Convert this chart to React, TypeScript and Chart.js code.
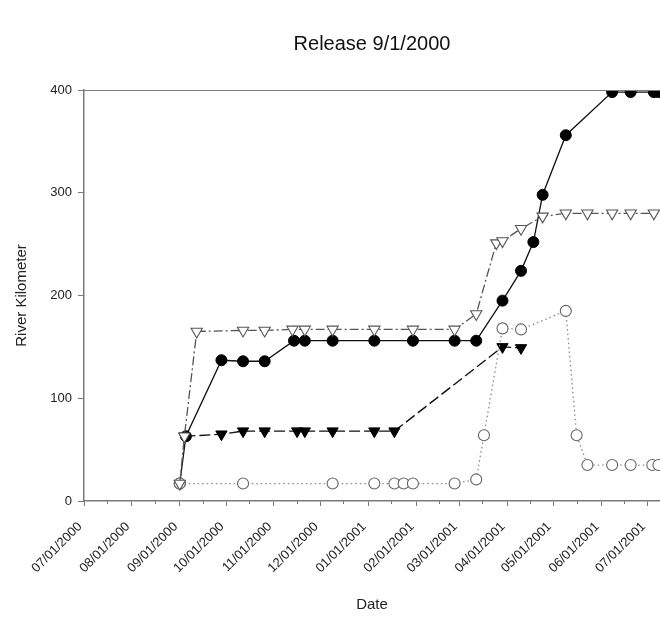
import React, { useEffect, useRef } from "react";
import { Chart, registerables } from "chart.js";

Chart.register(...registerables);

const TITLE = "Release 9/1/2000";
const X_TITLE = "Date";
const Y_TITLE = "River Kilometer";

const xTickLabels = [
  "07/01/2000", "08/01/2000", "09/01/2000", "10/01/2000", "11/01/2000", "12/01/2000",
  "01/01/2001", "02/01/2001", "03/01/2001", "04/01/2001", "05/01/2001", "06/01/2001", "07/01/2001",
];
const xMinDate = "2000-07-01";
const xMaxDate = "2001-07-09";
const yTicks = [0, 100, 200, 300, 400];

// Filled circles, solid line
const filledCircleDates = [
  "2000-09-01", "2000-09-05", "2000-09-28", "2000-10-12", "2000-10-26", "2000-11-14", "2000-11-21",
  "2000-12-09", "2001-01-05", "2001-01-30", "2001-02-26", "2001-03-12", "2001-03-29", "2001-04-10",
  "2001-04-18", "2001-04-24", "2001-05-09", "2001-06-08", "2001-06-20", "2001-07-05", "2001-07-08",
];
const filledCircleKm = [17, 63, 137, 136, 136, 156, 156, 156, 156, 156, 156, 156, 195, 224, 252, 298, 356, 398, 398, 398, 398];

// Open triangles, dash-dot line
const openTriangleDates = [
  "2000-09-01", "2000-09-04", "2000-09-12", "2000-10-12", "2000-10-26", "2000-11-13", "2000-11-21",
  "2000-12-09", "2001-01-05", "2001-01-30", "2001-02-26", "2001-03-12", "2001-03-25", "2001-03-29",
  "2001-04-10", "2001-04-24", "2001-05-09", "2001-05-23", "2001-06-08", "2001-06-20", "2001-07-05",
];
const openTriangleKm = [17, 63, 165, 166, 166, 167, 167, 167, 167, 167, 167, 182, 251, 253, 265, 277, 280, 280, 280, 280, 280];

// Filled triangles, long-dash line
const filledTriangleDates = [
  "2000-09-04", "2000-09-28", "2000-10-12", "2000-10-26", "2000-11-16", "2000-11-21",
  "2000-12-09", "2001-01-05", "2001-01-18", "2001-03-29", "2001-04-10",
];
const filledTriangleKm = [63, 65, 68, 68, 68, 68, 68, 68, 68, 150, 149];

// Open circles, dotted line
const openCircleDates = [
  "2000-09-01", "2000-10-12", "2000-12-09", "2001-01-05", "2001-01-18", "2001-01-24", "2001-01-30",
  "2001-02-26", "2001-03-12", "2001-03-17", "2001-03-29", "2001-04-10", "2001-05-09", "2001-05-16",
  "2001-05-23", "2001-06-08", "2001-06-20", "2001-07-04", "2001-07-08",
];
const openCircleKm = [17, 17, 17, 17, 17, 17, 17, 17, 21, 64, 168, 167, 185, 64, 35, 35, 35, 35, 35];

const ORIGIN = Date.UTC(2000, 6, 1);
const MS_DAY = 86400000;
function dayOf(s: string): number {
  const [y, m, d] = s.split("-").map(Number);
  return (Date.UTC(y, m - 1, d) - ORIGIN) / MS_DAY;
}
function dayOfLabel(s: string): number {
  const [m, d, y] = s.split("/").map(Number);
  return (Date.UTC(y, m - 1, d) - ORIGIN) / MS_DAY;
}
function pts(dates: string[], km: number[]) {
  return dates.map((d, i) => ({ x: dayOf(d), y: km[i] }));
}

const FONT = "'Liberation Sans', Arial, sans-serif";
const AXIS = "#7a7a7a";

export default function App() {
  const ref = useRef<HTMLCanvasElement | null>(null);

  useEffect(() => {
    if (!ref.current) return;
    const tickDays = xTickLabels.map(dayOfLabel);
    const labelByDay: Record<number, string> = {};
    xTickLabels.forEach((l, i) => (labelByDay[tickDays[i]] = l));
    const minorDays = tickDays.map((d) => d + 15);

    const decor = {
      id: "decor",
      afterDraw(chart: any) {
        const { ctx, chartArea } = chart;
        const xs = chart.scales.x;
        ctx.save();
        ctx.strokeStyle = AXIS;
        ctx.lineWidth = 1.2;
        ctx.beginPath();
        ctx.moveTo(chartArea.left, chartArea.top + 0.5);
        ctx.lineTo(chartArea.right, chartArea.top + 0.5);
        ctx.stroke();
        ctx.lineWidth = 1;
        minorDays.forEach((d) => {
          const px = xs.getPixelForValue(d);
          if (px < chartArea.left || px > chartArea.right) return;
          ctx.beginPath();
          ctx.moveTo(Math.round(px) + 0.5, chartArea.bottom);
          ctx.lineTo(Math.round(px) + 0.5, chartArea.bottom + 3);
          ctx.stroke();
        });
        ctx.fillStyle = "#111";
        ctx.font = `20px ${FONT}`;
        ctx.textAlign = "center";
        ctx.textBaseline = "middle";
        ctx.fillText(TITLE, (chartArea.left + chartArea.right) / 2, 44);
        ctx.restore();
      },
    };

    const chart = new Chart(ref.current, {
      type: "line",
      data: {
        datasets: [
          {
            label: "open triangle",
            data: pts(openTriangleDates, openTriangleKm),
            borderColor: "#555",
            borderWidth: 1.3,
            borderDash: [9, 3, 2, 3],
            pointStyle: "triangle",
            pointRotation: 180,
            pointRadius: 6.5,
            pointBackgroundColor: "#fff",
            pointBorderColor: "#555",
            pointBorderWidth: 1.1,
            fill: false,
            tension: 0,
          },
          {
            label: "open circle",
            data: pts(openCircleDates, openCircleKm),
            borderColor: "#8a8a8a",
            borderWidth: 1.3,
            borderDash: [1.5, 3],
            pointStyle: "circle",
            pointRadius: 5.5,
            pointBackgroundColor: "#fff",
            pointBorderColor: "#666",
            pointBorderWidth: 1.1,
            fill: false,
            tension: 0,
          },
          {
            label: "filled triangle",
            data: pts(filledTriangleDates, filledTriangleKm),
            borderColor: "#111",
            borderWidth: 1.4,
            borderDash: [11, 4],
            pointStyle: "triangle",
            pointRotation: 180,
            pointRadius: 6.5,
            pointBackgroundColor: "#000",
            pointBorderColor: "#000",
            pointBorderWidth: 1,
            fill: false,
            tension: 0,
          },
          {
            label: "filled circle",
            data: pts(filledCircleDates, filledCircleKm),
            borderColor: "#111",
            borderWidth: 1.3,
            pointStyle: "circle",
            pointRadius: 5.5,
            pointBackgroundColor: "#000",
            pointBorderColor: "#000",
            pointBorderWidth: 1,
            fill: false,
            tension: 0,
          },
        ],
      },
      options: {
        responsive: false,
        animation: false,
        layout: { autoPadding: false, padding: { top: 90, right: 0, left: 0, bottom: 0 } },
        plugins: {
          legend: { display: false },
          tooltip: { enabled: false },
          title: { display: false },
        },
        scales: {
          x: {
            type: "linear",
            min: dayOf(xMinDate),
            max: dayOf(xMaxDate),
            afterBuildTicks: (s: any) => {
              s.ticks = tickDays.map((v) => ({ value: v }));
            },
            afterFit: (s: any) => {
              s.height = 116;
              s.paddingLeft = 0;
              s.paddingRight = 0;
            },
            ticks: {
              autoSkip: false,
              minRotation: 45,
              maxRotation: 45,
              padding: 13,
              labelOffset: -4,
              color: "#222",
              font: { family: FONT, size: 13 },
              callback: (v: any) => labelByDay[v] ?? "",
            },
            grid: { drawOnChartArea: false, tickLength: 5, tickColor: AXIS, tickWidth: 1 },
            border: { display: true, color: AXIS, width: 1.5 },
            title: {
              display: true,
              text: X_TITLE,
              color: "#222",
              font: { family: FONT, size: 15 },
              padding: { top: 4, bottom: 3 },
            },
          },
          y: {
            type: "linear",
            min: yTicks[0],
            max: yTicks[yTicks.length - 1],
            afterBuildTicks: (s: any) => {
              s.ticks = yTicks.map((v) => ({ value: v }));
            },
            afterFit: (s: any) => {
              s.width = 84;
              s.paddingTop = 0;
              s.paddingBottom = 0;
            },
            ticks: {
              padding: 6,
              color: "#222",
              font: { family: FONT, size: 13 },
            },
            grid: { drawOnChartArea: false, tickLength: 6, tickColor: AXIS, tickWidth: 1 },
            border: { display: true, color: AXIS, width: 1.5 },
            title: {
              display: true,
              text: Y_TITLE,
              color: "#222",
              font: { family: FONT, size: 15 },
              padding: { top: 13, bottom: 4 },
            },
          },
        },
      },
      plugins: [decor],
    } as any);

    return () => chart.destroy();
  }, []);

  return (
    <div style={{ position: "absolute", left: 0, top: 0, width: 660, height: 617, background: "#fff" }}>
      <canvas ref={ref} width={660} height={617} style={{ display: "block", width: 660, height: 617 }} />
    </div>
  );
}
